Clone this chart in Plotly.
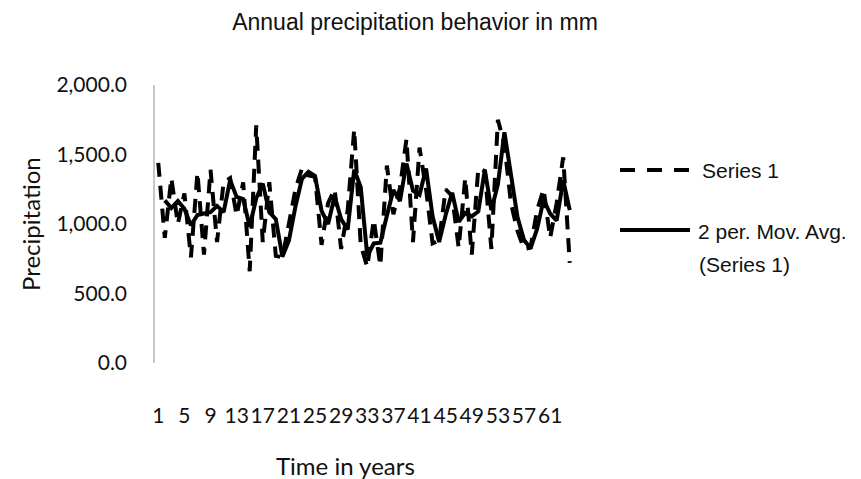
import numpy as np
import pandas as pd
import plotly.graph_objects as go

# Annual precipitation (mm), one value per year
years = list(range(1, 65))
precipitation = [
    1440, 900, 1330, 1000, 1220, 760, 1370, 780, 1390, 870,
    1300, 1330, 1060, 1300, 660, 1710, 870, 1300, 770, 760,
    1000, 1250, 1400, 1350, 1340, 850, 1150, 1250, 820, 1100,
    1680, 850, 690, 1030, 700, 1420, 1070, 1260, 1610, 870,
    1550, 1250, 860, 880, 1250, 1200, 830, 1330, 780, 1400,
    1380, 820, 1750, 1570, 1150, 950, 820, 830, 1100, 1250,
    900, 1150, 1480, 720,
]
x_tick_labels = [str(v) for v in range(1, 62, 4)]
y_tick_values = [0, 500, 1000, 1500, 2000]

series_name = "Series 1"
trend_name_lines = ["2 per. Mov. Avg.", "(Series 1)"]

# 2-period moving average trendline
moving_avg = pd.Series(precipitation, dtype=float).rolling(2).mean()
moving_avg = [None if np.isnan(v) else v for v in moving_avg]

W, H = 861, 479
L, R, T, B = 155, 288, 85, 116
plot_w = W - L - R
plot_h = H - T - B


def px_x(px):
    return (px - L) / plot_w


def px_y(py):
    return (H - B - py) / plot_h


tick_font = dict(family="Lato", size=21, color="#111111")
axis_title_font = dict(family="Lato", size=24, color="#111111")
legend_font = dict(family="Liberation Sans", size=21, color="#111111")

fig = go.Figure()
fig.add_trace(go.Scatter(
    x=years, y=precipitation, mode="lines", name=series_name,
    line=dict(color="black", width=4, dash="14px,9px"),
    showlegend=False,
))
fig.add_trace(go.Scatter(
    x=years, y=moving_avg, mode="lines", name=" ".join(trend_name_lines),
    line=dict(color="black", width=4),
    showlegend=False,
))

# Legend drawn as line samples with labels beside them
legend_rows = [
    dict(y=170, dash="15px,12px", labels=[(series_name, 700, 170)]),
    dict(y=230, dash="solid", labels=[(trend_name_lines[0], 696, 231),
                                      (trend_name_lines[1], 697, 264)]),
]
shapes = []
annotations = []
for row in legend_rows:
    shapes.append(dict(
        type="line", xref="paper", yref="paper",
        x0=px_x(620), x1=px_x(690), y0=px_y(row["y"]), y1=px_y(row["y"]),
        line=dict(color="black", width=4, dash=row["dash"]),
    ))
    for text, lx, ly in row["labels"]:
        annotations.append(dict(
            text=text, xref="paper", yref="paper", x=px_x(lx), y=px_y(ly),
            xanchor="left", yanchor="middle", showarrow=False, font=legend_font,
        ))

# Axis titles
annotations.append(dict(
    text="Time in years", xref="paper", yref="paper",
    x=px_x(345), y=px_y(465), xanchor="center", yanchor="middle",
    showarrow=False, font=axis_title_font,
))
annotations.append(dict(
    text="Precipitation", xref="paper", yref="paper",
    x=px_x(30), y=px_y(224), xanchor="center", yanchor="middle",
    textangle=-90, showarrow=False, font=axis_title_font,
))

fig.update_layout(
    width=W, height=H,
    margin=dict(l=L, r=R, t=T, b=B, pad=0),
    paper_bgcolor="white", plot_bgcolor="white",
    title=dict(
        text="Annual precipitation behavior in mm",
        x=415 / W, y=1 - 22 / H, xref="container", yref="container",
        xanchor="center", yanchor="middle",
        font=dict(family="Liberation Sans", size=23, color="#111111"),
    ),
    shapes=shapes,
    annotations=annotations,
    showlegend=False,
)
fig.update_xaxes(
    range=[0.5, 64.5],
    tickmode="array", tickvals=[int(t) for t in x_tick_labels],
    ticktext=x_tick_labels, tickangle=0,
    showgrid=False, zeroline=False, showline=False,
    ticks="", ticklabelstandoff=38, tickfont=tick_font,
)
fig.update_yaxes(
    range=[0, 2000],
    tickmode="array", tickvals=y_tick_values, tickformat=",.1f",
    showgrid=False, zeroline=False,
    showline=True, linecolor="#c6c6c6", linewidth=1.5,
    ticks="", ticklabelstandoff=22, tickfont=tick_font,
)

fig.write_html("out.html")
